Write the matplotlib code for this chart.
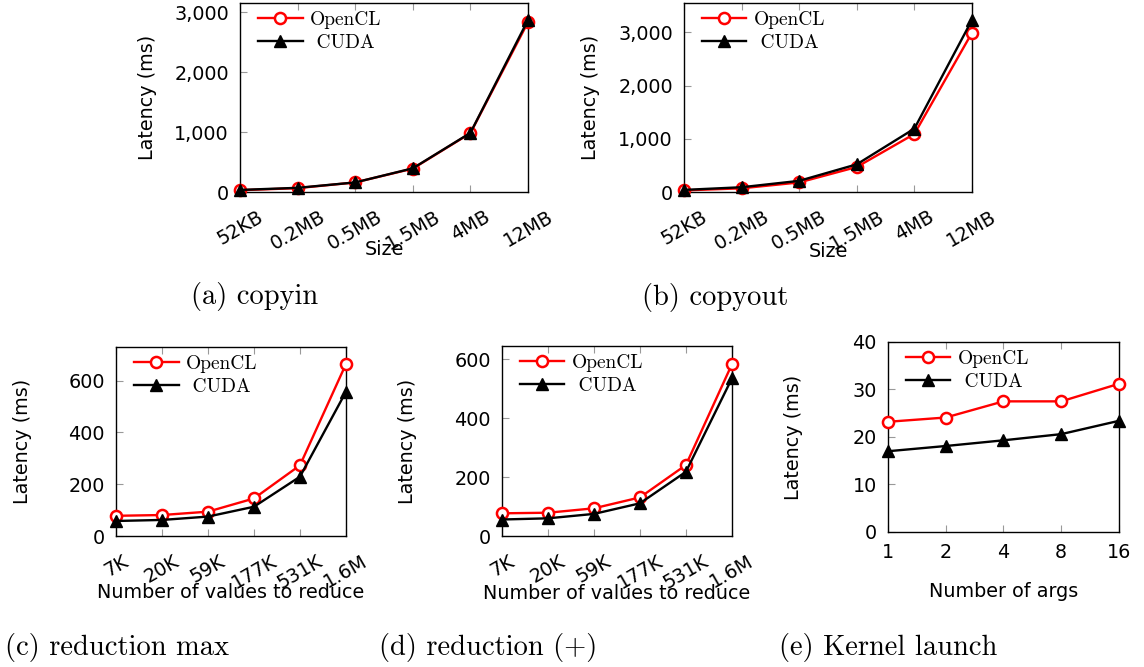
import matplotlib.pyplot as plt
from matplotlib.ticker import FuncFormatter

# data
sizes = ['52KB', '0.2MB', '0.5MB', '1.5MB', '4MB', '12MB']
copyin_ocl = [30, 65, 160, 390, 980, 2830]
copyin_cuda = [35, 70, 160, 395, 985, 2865]
copyout_ocl = [30, 70, 180, 470, 1090, 2990]
copyout_cuda = [40, 90, 210, 520, 1190, 3230]

values = ['7K', '20K', '59K', '177K', '531K', '1.6M']
redmax_ocl = [78, 81, 94, 145, 273, 664]
redmax_cuda = [58, 62, 75, 113, 229, 557]
redsum_ocl = [77, 79, 94, 131, 241, 583]
redsum_cuda = [56, 60, 75, 111, 218, 535]

args = ['1', '2', '4', '8', '16']
launch_ocl = [23.2, 24.1, 27.5, 27.5, 31.2]
launch_cuda = [17.0, 18.1, 19.3, 20.6, 23.4]

plt.rcParams['font.family'] = 'DejaVu Sans'
FS = 13.8
CAP = {'family': 'cmr10', 'size': 20.5}

fig = plt.figure(figsize=(11.44, 6.67), dpi=100)


def panel(rect, labels, ocl, cuda, ylim, yticks, xlabel, xlab_y, ylab_x,
          rotate=True, comma=False):
    ax = fig.add_axes(rect)
    x = list(range(len(labels)))
    ax.plot(x, ocl, color='red', lw=1.7, marker='o', ms=8, mfc='white',
            mec='red', mew=1.8, label='OpenCL', clip_on=False, zorder=3)
    ax.plot(x, cuda, color='black', lw=1.7, marker='^', ms=9,
            label=' CUDA', clip_on=False, zorder=4)
    ax.set_xlim(0, len(labels) - 1)
    ax.set_ylim(*ylim)
    ax.set_yticks(yticks)
    if comma:
        ax.yaxis.set_major_formatter(FuncFormatter(lambda v, p: f'{int(v):,}'))
    ax.set_xticks(x)
    if rotate:
        ax.set_xticklabels(labels, rotation=30, ha='center', va='top')
        ax.tick_params(axis='x', pad=11)
    else:
        ax.set_xticklabels(labels)
        ax.tick_params(axis='x', pad=8)
    ax.tick_params(axis='both', direction='in', color='0.6', length=5,
                   labelsize=FS, top=True, bottom=True, left=True, right=False)
    ax.tick_params(axis='y', pad=8)
    for s in ax.spines.values():
        s.set_linewidth(1.0)
    ax.set_ylabel('Latency (ms)', fontsize=FS)
    ax.yaxis.set_label_coords(ylab_x, 0.5)
    ax.set_xlabel(xlabel, fontsize=FS)
    ax.xaxis.set_label_coords(0.5, xlab_y)
    # legend sits ~10 px in from the left spine
    dx = 10 / (rect[2] * 1144)
    ax.legend(loc='upper left', bbox_to_anchor=(dx, 1), frameon=False,
              handlelength=2.3, handletextpad=0.4, labelspacing=0.25,
              borderaxespad=0.1, borderpad=0.3,
              prop={'family': 'cmr10', 'size': 14})
    return ax


panel([0.2098, 0.7121, 0.2517, 0.2834], sizes, copyin_ocl, copyin_cuda,
      (0, 3150), [0, 1000, 2000, 3000], 'Size', -0.255, -0.288, comma=True)
panel([0.5979, 0.7121, 0.2517, 0.2834], sizes, copyout_ocl, copyout_cuda,
      (0, 3550), [0, 1000, 2000, 3000], 'Size', -0.265, -0.29, comma=True)
panel([0.1014, 0.1964, 0.2010, 0.2834], values, redmax_ocl, redmax_cuda,
      (0, 730), [0, 200, 400, 600], 'Number of values to reduce', -0.25, -0.365)
panel([0.4388, 0.1964, 0.2010, 0.2849], values, redsum_ocl, redsum_cuda,
      (0, 645), [0, 200, 400, 600], 'Number of values to reduce', -0.25, -0.37)
panel([0.7762, 0.2024, 0.2019, 0.2849], args, launch_ocl, launch_cuda,
      (0, 40), [0, 10, 20, 30, 40], 'Number of args', -0.263, -0.368,
      rotate=False)

fig.text(255 / 1144, 1 - 296 / 667, '(a) copyin', ha='center', va='center', fontdict=CAP)
fig.text(715 / 1144, 1 - 297 / 667, '(b) copyout', ha='center', va='center', fontdict=CAP)
fig.text(117 / 1144, 1 - 647 / 667, '(c) reduction max', ha='center', va='center', fontdict=CAP)
fig.text(488 / 1144, 1 - 647 / 667, '(d) reduction (+)', ha='center', va='center', fontdict=CAP)
fig.text(888 / 1144, 1 - 647 / 667, '(e) Kernel launch', ha='center', va='center', fontdict=CAP)

fig.savefig('out.png', dpi=100)
